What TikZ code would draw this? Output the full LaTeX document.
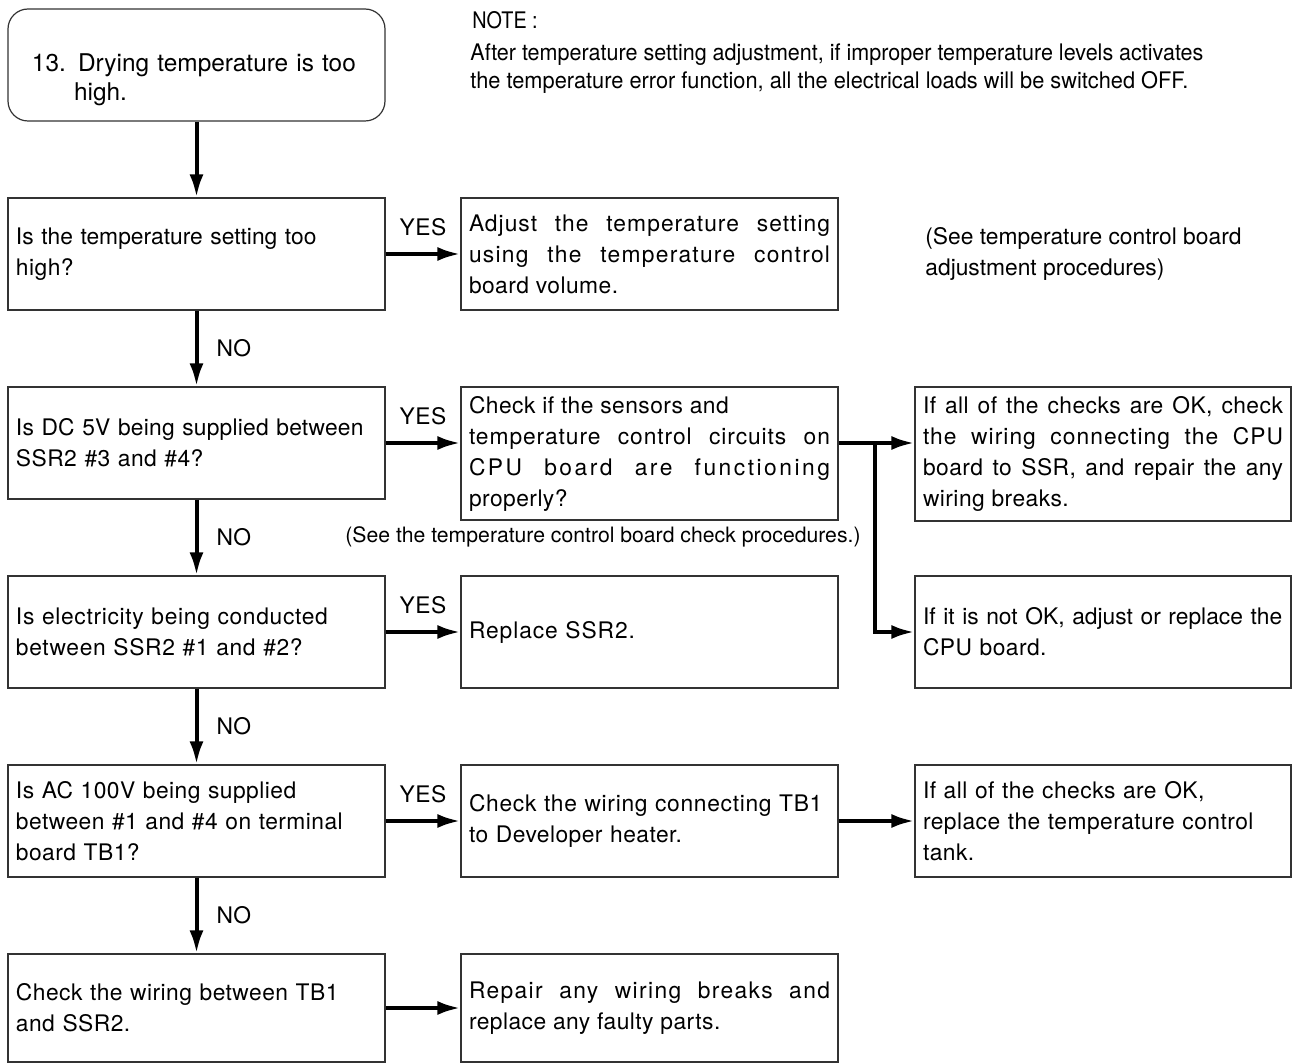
\documentclass[tikz,border=0pt]{standalone}
\usepackage{fontspec}
\setmainfont{TeX Gyre Heros}[LetterSpace=2]
\usepackage{graphicx}
\usetikzlibrary{arrows.meta}
\newcommand\bodyfont{\fontsize{11.4}{15.5}\selectfont}
\newcommand\startfont{\fontsize{12.2}{14.5}\selectfont\addfontfeature{LetterSpace=0}}
\newcommand\smallfont{\fontsize{10.6}{13}\selectfont\addfontfeature{LetterSpace=0}}
\newcommand\trk[2]{{\addfontfeature{LetterSpace=#1}#2}}
\begin{document}
\begin{tikzpicture}[x=0.5pt,y=-0.5pt,
  box/.style={draw=black!80, line width=0.6pt, rectangle, inner xsep=4pt, inner ysep=0pt,
    text width=180.5pt, minimum height=56pt, align=left, font=\bodyfont},
  jbox/.style={box, align=justify},
  arr/.style={line width=2pt, -{Latex[length=11.5pt,width=7pt]}},
  lbl/.style={font=\bodyfont, inner sep=0pt},
  plain/.style={inner sep=0pt, align=left},
]
\useasboundingbox (0,0) rectangle (1292,1064);

% start
\node[box, rounded corners=10pt, text width=164.5pt, inner xsep=12pt, font=\startfont,
      text height=24pt, text depth=17pt] (s) at (196.5,65)
  {13. Drying temperature is too\\\hphantom{13.\ }high.};

% row 1
\node[box] (b1) at (196.5,254) {\trk{0}{Is the temperature setting too}\\high?};
\node[jbox] (b1y) at (649.5,254) {\trk{4.5}{Adjust the temperature setting}\linebreak \trk{5.5}{using the temperature control}\linebreak board volume.};
\node[plain, anchor=west, font=\bodyfont\addfontfeature{LetterSpace=0}] (seeadj) at (925,254) {(See temperature control board\\adjustment procedures)};

% row 2
\node[box] (b2) at (196.5,443) {\trk{1}{Is DC 5V being supplied between}\\SSR2 \#3 and \#4?};
\node[jbox, minimum height=66.5pt] (b2y) at (649.5,453.5) {Check if the sensors and\\\trk{4}{temperature control circuits on}\linebreak \trk{11}{CPU board are functioning}\linebreak properly?};
\node[jbox, minimum height=67pt, text width=180pt] (b2r) at (1103,454) {\trk{2}{If all of the checks are OK, check}\linebreak \trk{4.5}{the wiring connecting the CPU}\linebreak \trk{2}{board to SSR, and repair the any}\linebreak wiring breaks.};
\node[plain, anchor=west, font=\smallfont] (seechk) at (345,537) {(See the temperature control board check procedures.)};

% row 3
\node[box] (b3) at (196.5,632) {\trk{3}{Is electricity being conducted}\\\trk{3}{between SSR2 \#1 and \#2?}};
\node[box] (b3y) at (649.5,632) {\trk{4}{Replace SSR2.}};
\node[box, text width=180pt] (b3r) at (1103,632) {\trk{0}{If it is not OK, adjust or replace the}\\CPU board.};

% row 4
\node[box] (b4) at (196.5,821) {Is AC 100V being supplied\\between \#1 and \#4 on terminal\\board TB1?};
\node[box] (b4y) at (649.5,821) {\trk{3}{Check the wiring connecting TB1}\\to Developer heater.};
\node[box, text width=180pt] (b4r) at (1103,821) {If all of the checks are OK,\\replace the temperature control\\tank.};

% row 5
\node[box, minimum height=54pt] (b5) at (196.5,1008) {Check the wiring between TB1\\and SSR2.};
\node[jbox, minimum height=54pt] (b5r) at (649.5,1008) {\trk{6}{Repair any wiring breaks and}\linebreak replace any faulty parts.};

% note
\node[plain, anchor=base west, font=\bodyfont\addfontfeature{LetterSpace=0}] (note) at (472,29) {\scalebox{0.87}[1]{NOTE :}};
\node[plain, anchor=base west, font=\bodyfont\addfontfeature{LetterSpace=0}] (note1) at (470,61) {\resizebox{366.5pt}{\height}{After temperature setting adjustment, if improper temperature levels activates}};
\node[plain, anchor=base west, font=\bodyfont\addfontfeature{LetterSpace=0}] (note2) at (470,89) {\resizebox{359pt}{\height}{the temperature error function, all the electrical loads will be switched OFF.}};

% connectors
\draw[arr] (s.south) -- (b1.north);
\draw[arr] (b1.south) -- node[lbl, right=9pt] {NO} (b2.north);
\draw[arr] (b2.south) -- node[lbl, right=9pt] {NO} (b3.north);
\draw[arr] (b3.south) -- node[lbl, right=9pt] {NO} (b4.north);
\draw[arr] (b4.south) -- node[lbl, right=9pt] {NO} (b5.north);

\draw[arr] (b1.east) -- node[lbl, yshift=13.5pt] {YES} (b1y.west);
\draw[arr] (b2.east) -- node[lbl, yshift=13.5pt] {YES} (b2.east -| b2y.west);
\draw[arr] (b3.east) -- node[lbl, yshift=13.5pt] {YES} (b3y.west);
\draw[arr] (b4.east) -- node[lbl, yshift=13.5pt] {YES} (b4y.west);
\draw[arr] (b5.east) -- (b5r.west);

\coordinate (br) at (875,443);
\draw[arr] (b2.east -| b2y.east) -- (b2.east -| b2r.west);
\draw[arr] (br) |- (b3r.west);
\draw[arr] (b4y.east) -- (b4r.west);
\end{tikzpicture}
\end{document}
